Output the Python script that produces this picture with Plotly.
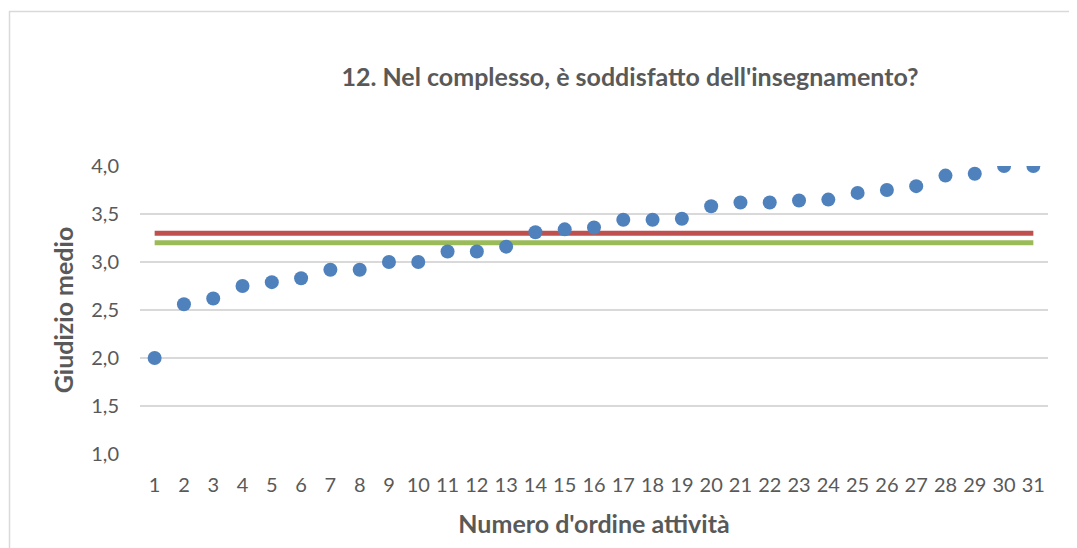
import plotly.graph_objects as go

activities = list(range(1, 32))
giudizio = [2.00, 2.56, 2.62, 2.75, 2.79, 2.83, 2.92, 2.92, 3.00, 3.00,
            3.11, 3.11, 3.16, 3.31, 3.34, 3.36, 3.44, 3.44, 3.45, 3.58,
            3.62, 3.62, 3.64, 3.65, 3.72, 3.75, 3.79, 3.90, 3.92, 4.00, 4.00]
media_red = 3.30
media_green = 3.20
y_ticks = [1.0, 1.5, 2.0, 2.5, 3.0, 3.5, 4.0]

W, H = 1077, 548
OFF = 8  # page body margin
L, R, T, B = 140, 1048, 165.7, 454.3

fig = go.Figure()
fig.add_trace(go.Scatter(x=activities, y=[media_red] * len(activities), mode="lines",
                         line=dict(color="#c0504d", width=5), showlegend=False, hoverinfo="skip"))
fig.add_trace(go.Scatter(x=activities, y=[media_green] * len(activities), mode="lines",
                         line=dict(color="#9bbb59", width=5), showlegend=False, hoverinfo="skip"))
fig.add_trace(go.Scatter(x=activities, y=giudizio, mode="markers",
                         marker=dict(color="#4f81bd", size=14), showlegend=False))

font_family = "Lato, Open Sans, sans-serif"
fig.update_layout(
    width=W, height=H,
    margin=dict(l=L - OFF, r=W + OFF - R, t=T - OFF, b=H + OFF - B, pad=0),
    paper_bgcolor="white", plot_bgcolor="white",
    separators=", ",
    font=dict(family=font_family, color="#595959", size=20),
    title=dict(text="<b>12. Nel complesso, è soddisfatto dell'insegnamento?</b>",
               x=(630 - OFF) / W, xanchor="center", xref="container",
               y=1 - (77 - OFF) / H, yanchor="middle", yref="container",
               font=dict(size=25, color="#595959", family=font_family)),
    xaxis=dict(range=[0.5, 31.5], tickmode="array", tickvals=activities,
               ticktext=[str(a) for a in activities], showgrid=False, zeroline=False,
               showline=False, ticks="", ticklabelstandoff=17,
               tickfont=dict(size=20, color="#595959"),
               title=dict(text="<b>Numero d'ordine attività</b>", standoff=20,
                          font=dict(size=25, color="#595959"))),
    yaxis=dict(range=[1, 4], tickmode="array", tickvals=y_ticks, tickformat=".1f",
               showgrid=True, gridcolor="#d9d9d9", gridwidth=1.5, zeroline=False,
               showline=False, ticks="", ticklabelstandoff=20,
               tickfont=dict(size=20, color="#595959"),
               title=dict(text="<b>Giudizio medio</b>", standoff=10,
                          font=dict(size=25, color="#595959"))),
)

# chart area border (cropped at right/bottom like the reference)
fig.add_shape(type="rect", xref="paper", yref="paper",
              x0=(9.5 - L) / (R - L), x1=(1100 - L) / (R - L),
              y0=(B - 570) / (B - T), y1=(B - 11) / (B - T),
              line=dict(color="#d9d9d9", width=1.5), layer="below")

fig.write_html("out.html")
